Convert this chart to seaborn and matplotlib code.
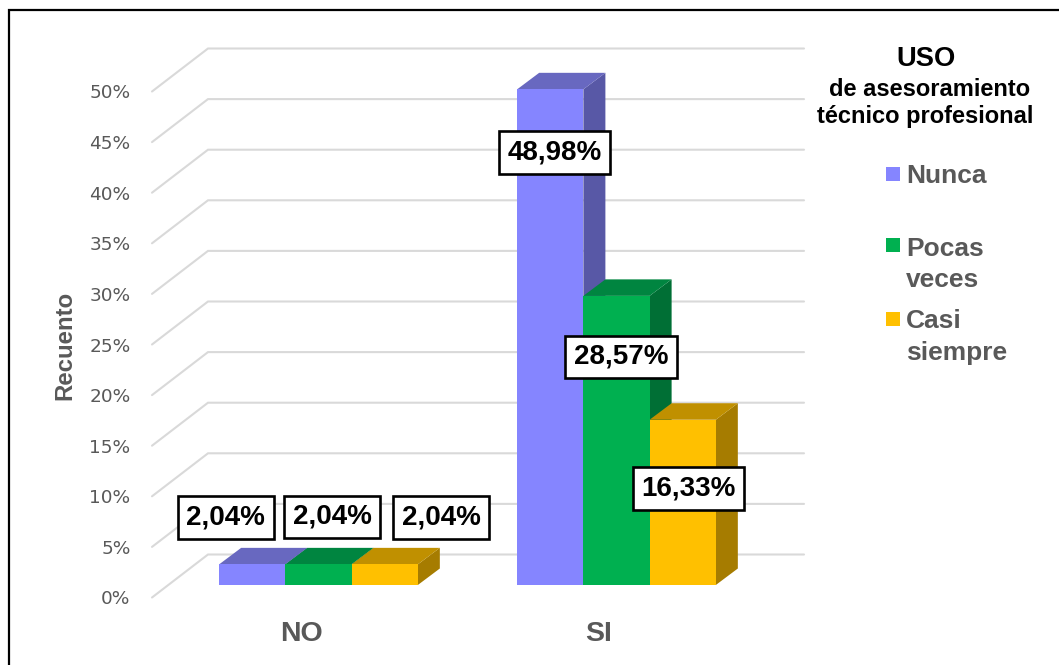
import matplotlib
matplotlib.use("Agg")
import matplotlib.pyplot as plt
import seaborn as sns
import pandas as pd
from matplotlib.lines import Line2D
from matplotlib.patches import Polygon, Rectangle
from matplotlib.transforms import Affine2D, IdentityTransform

categories = ["NO", "SI"]
series_names = ["Nunca", "Pocas veces", "Casi siempre"]
nunca = [2.04, 48.98]
pocas_veces = [2.04, 28.57]
casi_siempre = [2.04, 16.33]
y_ticks = [0, 5, 10, 15, 20, 25, 30, 35, 40, 45, 50]
front_colors = ["#8585FF", "#00B050", "#FFC000"]
top_colors = ["#6868C0", "#008540", "#C09000"]
side_colors = ["#5858A6", "#006F35", "#A67C00"]

W, H = 1059, 665
GREY = "#595959"
FONT = "Liberation Sans"
sns.set_theme(style="white")
plt.rcParams["font.family"] = ["DejaVu Sans"]

df = pd.DataFrame({
    "grupo": categories * 3,
    "serie": [s for s in series_names for _ in categories],
    "valor": nunca + pocas_veces + casi_siempre,
})

fig = plt.figure(figsize=(W / 100, H / 100), dpi=100, facecolor="white")
ax = fig.add_axes([152 / W, 1 - 597.5 / H, 596 / W, 506 / H])
ax.patch.set_visible(False)
sns.barplot(data=df, x="grupo", y="valor", hue="serie", order=categories,
            hue_order=series_names, palette=front_colors, width=2 / 3,
            saturation=1, linewidth=0, legend=False, ax=ax)
ax.set_xlim(-0.5, 1.5)
ax.set_ylim(0, 50)
for s in ax.spines.values():
    s.set_visible(False)
ax.set_yticks(y_ticks)
ax.set_yticklabels([f"{t}%" for t in y_ticks], fontsize=13.3, color=GREY)
ax.tick_params(axis="y", length=0, pad=15.5)
ax.tick_params(axis="x", length=0, pad=17)
ax.set_xticks(range(len(categories)))
ax.set_xticklabels(categories, fontsize=20.5, color=GREY, fontweight="bold", family=FONT)
ax.set_xlabel("")
ax.set_ylabel("")
fig.text(65 / W, 1 - 345 / H, "Recuento", rotation=90, ha="center", va="center",
         fontsize=17.3, fontweight="bold", color=GREY, family=FONT)

fig.canvas.draw()
identity = IdentityTransform()

# perspective grid
depth_x, depth_y = 56, 43
x0_px = ax.transData.transform((-0.5, 0))[0]
x1_px = ax.transData.transform((1.5, 0))[0]
for t in y_ticks:
    y_px = ax.transData.transform((0, t))[1]
    fig.add_artist(Line2D([x0_px, x0_px + depth_x, x1_px + depth_x],
                          [y_px, y_px + depth_y, y_px + depth_y],
                          transform=identity, color="#D9D9D9", lw=1.5, zorder=0,
                          solid_joinstyle="miter"))

# 3D bars
bar_shift = Affine2D().translate(17.5, 12.5)
bar_trans = ax.transData + bar_shift
dx, dy = 22, 16.5
label_offsets = [
    [(-26.5, 47), (13.5, 47.5), (56.5, 47)],
    [(4.5, -63), (4.5, -61), (6, -69)],
]
for hue_i, container in enumerate(ax.containers):
    for cat_i, bar in enumerate(container.patches):
        x = bar.get_x()
        w = bar.get_width()
        h = bar.get_height()
        (xa, ya) = bar_trans.transform((x, 0))
        (xb, yb) = bar_trans.transform((x + w, h))
        bar.set_transform(bar_trans)
        bar.set_clip_on(False)
        base = 10 * (cat_i + 1) + 3 * hue_i
        bar.set_zorder(base + 2)
        ax.add_patch(Polygon([(xb, ya), (xb + dx, ya + dy), (xb + dx, yb + dy), (xb, yb)],
                             transform=identity, facecolor=side_colors[hue_i],
                             edgecolor="none", zorder=base, clip_on=False))
        ax.add_patch(Polygon([(xa, yb), (xa + dx, yb + dy), (xb + dx, yb + dy), (xb, yb)],
                             transform=identity, facecolor=top_colors[hue_i],
                             edgecolor="none", zorder=base + 1, clip_on=False))
        ox, oy = label_offsets[cat_i][hue_i]
        ax.annotate(f"{h:.2f}%".replace(".", ","), xy=(x + w / 2, h), xycoords=bar_trans,
                    xytext=(ox, oy), textcoords="offset pixels", ha="center", va="center",
                    fontsize=20, fontweight="bold", color="black", family=FONT,
                    bbox=dict(boxstyle="square,pad=0.3", facecolor="white",
                              edgecolor="black", linewidth=1.9),
                    zorder=60, annotation_clip=False)

# legend block
def ft(x, y, s, **kw):
    fig.text(x / W, 1 - y / H, s, va="center", family=FONT, fontweight="bold", **kw)

ft(926, 59, "USO", ha="center", fontsize=19.7, color="black")
ft(930, 90, "de asesoramiento", ha="center", fontsize=17, color="black")
ft(925.5, 117, "técnico profesional", ha="center", fontsize=17, color="black")

legend_y = [174, 245, 319]
legend_lines = [["Nunca"], ["Pocas", "veces"], ["Casi", "siempre"]]
legend_line_y = [[176], [249, 280], [321, 353]]
for color, my, lines, ys in zip(front_colors, legend_y, legend_lines, legend_line_y):
    fig.add_artist(Rectangle((886 / W, 1 - (my + 7) / H), 14 / W, 14 / H,
                             transform=fig.transFigure, facecolor=color, edgecolor="none"))
    for s, y in zip(lines, ys):
        ft(906, y, s, ha="left", fontsize=19, color=GREY)

# outer frame (top and left edges)
fig.add_artist(Line2D([8.5 / W, 8.5 / W, 1], [0, 1 - 10 / H, 1 - 10 / H],
                      transform=fig.transFigure, color="black", lw=1.6,
                      solid_joinstyle="miter"))

fig.savefig("out.png", dpi=100)
